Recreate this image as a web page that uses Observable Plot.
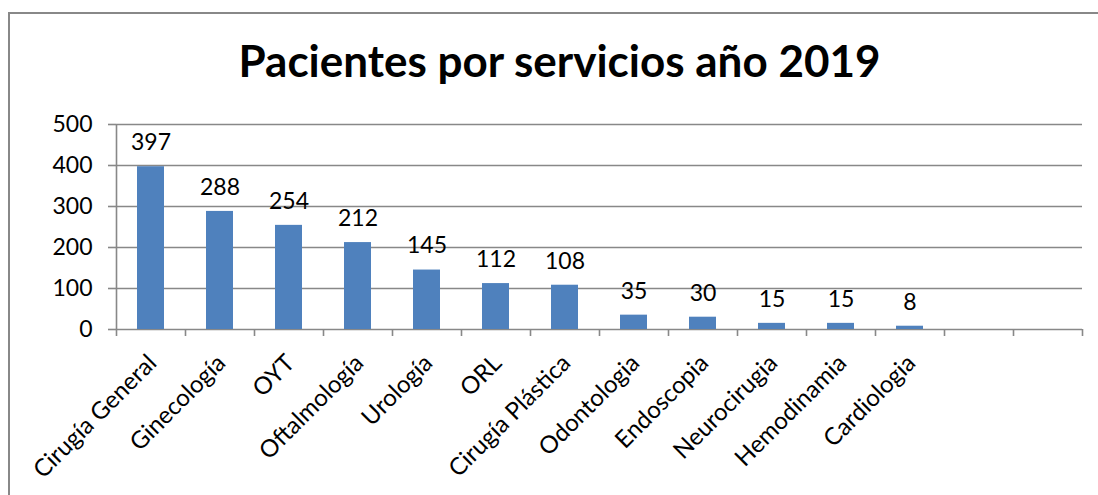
<!DOCTYPE html>
<html>
<head>
<meta charset="utf-8">
<script src="https://cdn.jsdelivr.net/npm/d3@7"></script>
<script src="https://cdn.jsdelivr.net/npm/@observablehq/plot@0.6"></script>
<style>
  html, body { margin: 0; padding: 0; background: #fff; overflow: hidden; }
  body { width: 1098px; height: 495px; position: relative; font-family: Lato, "Open Sans", sans-serif; }
  #frame { position: absolute; left: 8px; top: 12px; right: -20px; bottom: -20px;
           border-left: 2px solid #888; border-top: 2px solid #888; pointer-events: none; }
  #title { box-sizing: border-box; height: 100px; padding-top: 34px; padding-left: 21px;
           text-align: center; font-family: Lato, sans-serif; font-weight: 700; font-size: 44px;
           line-height: normal; color: #000; white-space: nowrap; }
  #chart svg { display: block; }
</style>
</head>
<body>
<div id="frame"></div>
<div id="title">Pacientes por servicios año 2019</div>
<div id="chart"></div>
<script>
const categories = ["Cirugía General","Ginecología","OYT","Oftalmología","Urología","ORL","Cirugía Plástica","Odontologia","Endoscopia","Neurocirugia","Hemodinamia","Cardiologia"];
const values = [397,288,254,212,145,112,108,35,30,15,15,8];
const emptySlots = ["", " "];
const yTicks = [0,100,200,300,400,500];

const slots = [...categories, ...emptySlots];
const data = categories.map((c, i) => ({category: c, value: values[i]}));

const W = 1098, H = 395, mL = 116, mR = 16, mT = 24, mB = 166;
const pInner = 42 / 69;
const step = (W - mL - mR) / slots.length;
const half = step / 2;
const gray = "#888";

const chart = Plot.plot({
  width: W, height: H,
  marginTop: mT, marginBottom: mB, marginLeft: mL, marginRight: mR,
  style: {fontFamily: "Lato, 'Open Sans', sans-serif", background: "transparent", overflow: "visible"},
  x: {domain: slots, paddingInner: pInner, paddingOuter: pInner / 2, axis: null},
  y: {domain: [0, 500], axis: null},
  marks: [
    Plot.ruleY(yTicks, {stroke: gray, strokeWidth: 1.6}),
    Plot.ruleX([slots[0]], {dx: -half, y1: 500, y2: 0, insetBottom: -7, stroke: gray, strokeWidth: 1.6}),
    Plot.ruleX(slots, {dx: half, y1: 0, y2: 0, insetBottom: -7, stroke: gray, strokeWidth: 1.6}),
    Plot.axisY({ticks: yTicks, label: null, tickSize: 8, tickPadding: 16, stroke: gray, strokeWidth: 1.6, fill: "#000", fontSize: 23}),
    Plot.barY(data, {x: "category", y: "value", fill: "#4f81bd"}),
    Plot.text(data, {x: "category", y: "value", text: d => String(d.value), dy: -24, fontSize: 23, fill: "#000"}),
    Plot.text(slots, {x: d => d, y: 0, text: d => d.trim(), rotate: -45, textAnchor: "end", lineAnchor: "top", dx: -5, dy: 23, fontSize: 24, fill: "#000"})
  ]
});
document.getElementById("chart").appendChild(chart);
</script>
</body>
</html>
